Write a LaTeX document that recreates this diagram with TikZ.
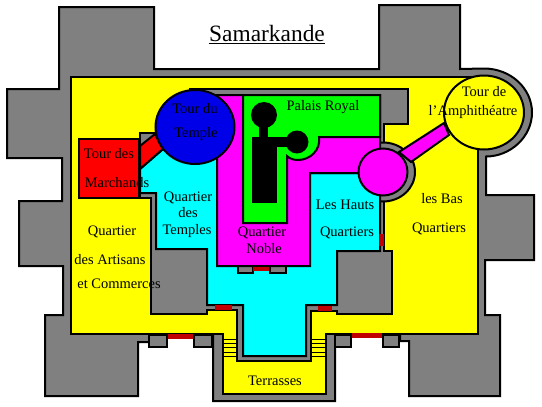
\documentclass[tikz,border=0pt]{standalone}
\usepackage{fontspec}
\setmainfont{Liberation Serif}
\definecolor{wallgray}{HTML}{808080}
\definecolor{yel}{HTML}{FFFF00}
\definecolor{cya}{HTML}{00FFFF}
\definecolor{mag}{HTML}{FF00FF}
\definecolor{grn}{HTML}{00FF00}
\definecolor{blu}{HTML}{0000E8}
\definecolor{rouge}{HTML}{FF0000}
\definecolor{porte}{HTML}{C00000}
\tikzset{
  wall/.style={fill=wallgray,draw=black,line width=2pt,line join=miter},
  zone/.style={draw=black,line width=2pt},
  door/.style={fill=porte,draw=none},
  stair/.style={draw=black,line width=1pt},
  lbl/.style={inner sep=0pt,font=\fontsize{14.5}{14.5}\selectfont,text=black},
  titre/.style={inner sep=0pt,font=\fontsize{23.4}{23.4}\selectfont,text=black}
}
\begin{document}
\begin{tikzpicture}[x=1pt,y=-1pt]
\useasboundingbox (0,0) rectangle (542,407);
\fill[white] (0,0) rectangle (542,407);
% outer walls
\path[wall] (59,7) -- (154,7) -- (154,69) -- (379,69) -- (379,5) -- (460,5) -- (460,69) -- (484,68.5)
  .. controls (510.5,68.5) and (532,88.2) .. (532,112.5)
  .. controls (532,136.8) and (510.5,156.5) .. (486,156.5)
  -- (486,195) -- (534,195) -- (534,260) -- (485,260) -- (485,315) -- (500,315) -- (500,396) -- (409,396) -- (409,341) -- (400,341) -- (400,334)
  -- (335,334) -- (335,401) -- (213,401) -- (213,334) -- (149,334) -- (149,342) -- (138,342) -- (138,396) -- (45,396) -- (45,315) -- (63,315) -- (63,266) -- (19,266) -- (19,201) -- (62,201) -- (62,158) -- (7,158) -- (7,89) -- (59,89) -- cycle;
% gate towers
\path[wall] (149,335) rectangle (167,347);
\path[wall] (194,335) rectangle (212,347);
\path[wall] (335,335) rectangle (351,347);
\path[wall] (383,335) rectangle (399,347);
% yellow ground
\path[zone,fill=yel] (71,77) -- (478,77) -- (478,334) -- (326,334) -- (326,394) -- (223,394) -- (223,334) -- (71,334) -- cycle;
% inner wall
\path[wall] (140,133) -- (190,133) -- (190,89) -- (408,89) -- (408,124) -- (384,124) -- (384,251) -- (392,251) -- (392,314) -- (337,314) -- (337,311) -- (311,311) -- (311,361) -- (237,361) -- (237,310) -- (207,310) -- (207,314) -- (151,314) -- (151,198) -- (140,198) -- cycle;
\path[wall] (383,172) ellipse [x radius=32pt,y radius=29.5pt];
% stairs
\foreach \yy in {339,343,347,352,356} {
  \draw[stair] (224,\yy) -- (237,\yy);
  \draw[stair] (312,\yy) -- (325,\yy);
}
% cyan quarter
\path[zone,fill=cya] (140,193) -- (156,193) -- (156,249) -- (207,249) -- (207,305) -- (243,305) -- (243,356) -- (306,356) -- (306,305) -- (337,305) -- (337,251) -- (380,251) -- (380,173) -- (310,173) -- (310,140) -- (195,140) -- (163,149) -- (140,169) -- cycle;
% small gate towers below the noble quarter
\path[wall] (238,266) rectangle (253,273);
\path[wall] (270,266) rectangle (286,273);
% magenta quarter
\path[zone,fill=mag] (205,95) -- (380,95) -- (380,173) -- (310,173) -- (310,266) -- (217,266) -- (217,150) -- (205,140) -- cycle;
% palace
\path[zone,fill=grn] (243,95) -- (380,95) -- (380,137) -- (319,137)
  .. controls (321,150) and (310,160) .. (298,160)
  .. controls (294,160) and (290,159) .. (287,156)
  -- (287,223) -- (243,223) -- cycle;
\fill[black] (264,115) circle [radius=13pt];
\fill[black] (297,142) circle [radius=11.5pt];
\fill[black] (259,120) rectangle (268,140);
\fill[black] (252,137) rectangle (277,203);
\fill[black] (277,137) rectangle (290,147);
% merchants tower and link
\path[zone,fill=rouge] (140,146) -- (155,134) -- (163,149) -- (140,169) -- cycle;
\path[zone,fill=rouge] (79,139) rectangle (139,198);
% temple tower
\path[zone,fill=blu] (195,127) ellipse [x radius=39.5pt,y radius=37pt];
% amphitheatre link and towers
\path[zone,fill=mag] (399,152) -- (444,123) -- (449,135) -- (411,162) -- cycle;
\path[zone,fill=mag] (383,172) ellipse [x radius=24.5pt,y radius=23.5pt];
\path[zone,fill=yel] (484,112.5) ellipse [x radius=40pt,y radius=37pt];
% doors
\path[door] (379,234) rectangle (384,246);
\path[door] (215,305) rectangle (232,310);
\path[door] (318,306) rectangle (332,311);
\path[door] (168,334) rectangle (193,339);
\path[door] (352,333) rectangle (382,338);
\path[door] (253,267) rectangle (269,271);
% labels
\node[titre] (sam) at (267,33) {Samarkande};
\draw[line width=1.5pt] (sam.south west |- 0,43.5) -- (sam.south east |- 0,43.5);
\node[lbl] (t1) at (195,109) {Tour du};
\node[lbl] (t2) at (196,134) {Temple};
\node[lbl] (m1) at (109,154) {Tour des};
\node[lbl] (m2) at (117,183) {Marchands};
\node[lbl] (qt1) at (188,198) {Quartier};
\node[lbl] (qt2) at (188,213) {des};
\node[lbl] (qt3) at (187,231) {Temples};
\node[lbl] (qn1) at (262,233) {Quartier};
\node[lbl] (qn2) at (264,249) {Noble};
\node[lbl] (pr) at (323,107) {Palais Royal};
\node[lbl] (h1) at (345,205) {Les Hauts};
\node[lbl] (h2) at (347,233) {Quartiers};
\node[lbl] (b1) at (442,199) {les Bas};
\node[lbl] (b2) at (439,229) {Quartiers};
\node[lbl] (a1) at (484,92) {Tour de};
\node[lbl] (a2) at (473,112) {l'Amphithéatre};
\node[lbl] (q1) at (112,232) {Quartier};
\node[lbl] (q2) at (110,260) {des Artisans};
\node[lbl] (q3) at (119,284) {et Commerces};
\node[lbl] (ter) at (275,381) {Terrasses};
\end{tikzpicture}
\end{document}
